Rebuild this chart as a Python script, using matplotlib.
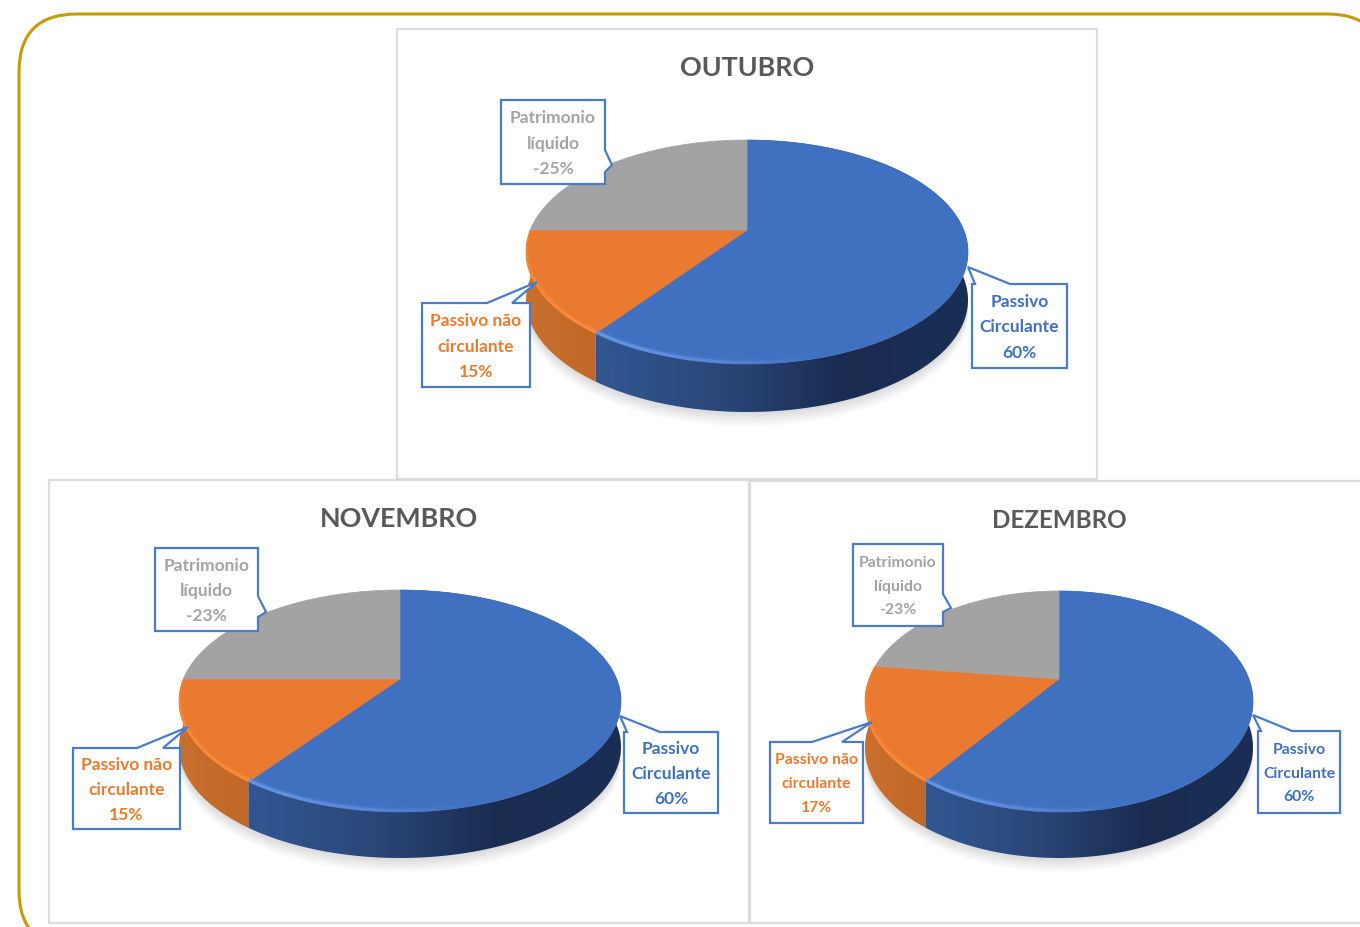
import numpy as np
import matplotlib
matplotlib.use("Agg")
import matplotlib.pyplot as plt
from matplotlib.patches import Polygon, Rectangle, FancyBboxPatch
from matplotlib.collections import LineCollection
from matplotlib.colors import to_rgb

plt.rcParams['font.family'] = ['Lato', 'DejaVu Sans']

months = ["OUTUBRO", "NOVEMBRO", "DEZEMBRO"]
passivo_circulante = [60, 60, 60]
passivo_nao_circulante = [15, 15, 17]
patrimonio_liquido = [-25, -23, -23]
series_names = ["Passivo\nCirculante", "Passivo não\ncirculante", "Patrimonio\nlíquido"]

BLUE = "#4070c0"
ORANGE = "#ea7a2f"
GRAY = "#a3a3a3"
LINE = "#4a7bc8"

# layout in pixels of the picture
panels = [(397, 29, 700, 450), (49, 480, 700, 443), (750, 481, 640, 442)]
title_pos = [(747, 68), (399, 519), (1059, 520)]
title_size = [19.4, 19.4, 17.4]
label_size = [12.5, 12.5, 11.3]
label_spacing = [1.72, 1.7, 1.9]
# cx, apex y, top y, bottom y, half width, depth
pies = [(747, 230, 140, 364, 221, 48),
        (400, 679, 590, 812, 221, 46),
        (1059, 679, 591, 812, 194, 46)]
# box (x0, y0, x1, y1), tip, side of the wedge, wedge start/end
callouts = [
    [((972, 284, 1067, 368), (968, 267), "top", (975, 1010)),
     ((422, 303, 530, 387), (537, 282), "top", (487, 512)),
     ((501, 100, 605, 184), (612, 165), "right", (150, 172))],
    [((624, 732, 718, 813), (620, 716), "top", (627, 660)),
     ((73, 748, 180, 829), (188, 727), "top", (137, 163)),
     ((155, 548, 258, 631), (266, 612), "right", (596, 617))],
    [((1258, 731, 1340, 813), (1253, 715), "top", (1261, 1292)),
     ((770, 742, 863, 823), (872, 722), "top", (812, 842)),
     ((853, 544, 943, 626), (951, 608), "right", (594, 612))],
]


def project(theta, pie):
    # circle seen in perspective, the centre lands on the apex and not mid ellipse
    cx, apex, top, bot, half, depth = pie
    ry = (bot - top) / 2
    yc = (bot + top) / 2
    k = (yc - apex) / ry
    s, u = np.sin(theta), np.cos(theta)
    c = half * np.sqrt(1 - k ** 2)
    d = 1 + k * u
    return cx + c * s / d, yc - (ry * u + (yc - apex)) / d


def side(ax, a, b, pie, stops):
    t = np.linspace(a, b, 200)
    x, y = project(t, pie)
    depth = pie[5]
    pts = np.r_[np.c_[x, y], np.c_[x, y + depth][::-1]]
    clip = Polygon(pts, closed=True, fc="none", ec="none", transform=ax.transData)
    ax.add_patch(clip)
    # gradient left to right along the side
    x0, x1 = pie[0] - pie[4], pie[0] + pie[4]
    xs = np.linspace(x0, x1, 300)
    pos = [p for p, _ in stops]
    cols = np.array([to_rgb(c) for _, c in stops])
    grad = np.stack([np.interp((xs - x0) / (x1 - x0), pos, cols[:, i]) for i in range(3)], axis=1)
    img = ax.imshow(grad[None, :, :], extent=[x0, x1, pts[:, 1].max(), pts[:, 1].min()],
                    aspect="auto", zorder=3)
    img.set_clip_path(clip)


def rim_light(ax, a, b, pie, color, clip, fade_in, fade_out):
    t = np.linspace(a, b, 120)
    x, y = project(t, pie)
    pts = np.c_[x, y - 1.5].reshape(-1, 1, 2)
    segs = np.concatenate([pts[:-1], pts[1:]], axis=1)
    deg = np.degrees(t[:-1])
    alpha = np.clip((deg - fade_in[0]) / (fade_in[1] - fade_in[0]), 0, 1)
    alpha = alpha * np.clip((fade_out[1] - deg) / (fade_out[1] - fade_out[0]), 0, 1)
    for lw, amp in [(4.5, 0.3), (2.2, 0.85)]:
        rgba = [to_rgb(color) + (v * amp,) for v in alpha]
        lc = LineCollection(segs, colors=rgba, linewidths=lw, zorder=5)
        ax.add_collection(lc)
        lc.set_clip_path(clip)


def callout(ax, box, tip, where, wedge, text, color, size, spacing):
    x0, y0, x1, y1 = box
    if where == "top":
        pts = [(x0, y0), (wedge[0], y0), tip, (wedge[1], y0), (x1, y0), (x1, y1), (x0, y1)]
    else:
        pts = [(x0, y0), (x1, y0), (x1, wedge[0]), tip, (x1, wedge[1]), (x1, y1), (x0, y1)]
    ax.add_patch(Polygon(pts, closed=True, fc="white", ec=LINE, lw=1.6, zorder=8))
    ax.text((x0 + x1) / 2, (y0 + y1) / 2 + 1.5, text, color=color, fontsize=size, fontweight="bold",
            ha="center", va="center", linespacing=spacing, zorder=9)


fig = plt.figure(figsize=(13.6, 9.27), dpi=100)
ax = fig.add_axes([0, 0, 1, 1])

# outer rounded frame
ax.add_patch(FancyBboxPatch((19, 14), 1366, 934, boxstyle="round,pad=0,rounding_size=58",
                            fc="white", ec="#c79a0a", lw=2.2, zorder=0))

for i, month in enumerate(months):
    px, py, pw, ph = panels[i]
    ax.add_patch(Rectangle((px, py), pw, ph, fc="white", ec="#dcdcdc", lw=1.6, zorder=1))
    pie = pies[i]
    # labels are rounded and do not always add to 100, gray takes what is left
    ends = np.array([passivo_circulante[i], passivo_circulante[i] + passivo_nao_circulante[i], 100]) / 100 * 2 * np.pi
    starts = np.r_[0, ends[:-1]]

    # soft shadow under the disc
    tt = np.linspace(0, 2 * np.pi, 240)
    sx, sy = project(tt, pie)
    for off in range(0, 16, 2):
        ax.add_patch(Polygon(np.c_[sx, sy + pie[5] + off], closed=True, fc="#000000",
                             ec="none", alpha=0.02, zorder=2))

    side(ax, starts[0], ends[0], pie, [(0, "#30558f"), (0.2, "#30558f"), (0.45, "#2a4677"),
                                       (0.72, "#1a2c50"), (1, "#1b2f55")])
    side(ax, starts[1], ends[1], pie, [(0, "#c9702f"), (0.3, "#b9601f"), (1, "#b9601f")])

    colors = [BLUE, ORANGE, GRAY]
    for a, b, col in zip(starts, ends, colors):
        t = np.linspace(a, b, 200)
        x, y = project(t, pie)
        ax_pts = np.r_[[[pie[0], pie[1]]], np.c_[x, y]]
        ax.add_patch(Polygon(ax_pts, closed=True, fc=col, ec=col, lw=0.5, zorder=4))

    disc = Polygon(np.c_[sx, sy], closed=True, fc="none", ec="none", transform=ax.transData)
    ax.add_patch(disc)
    rim_light(ax, np.radians(165), ends[0], pie, "#6a9ae6", disc, (165, 205), (400, 500))
    rim_light(ax, starts[1], ends[1], pie, "#fb8f3e", disc, (100, 120), (250, 272))

    ax.text(title_pos[i][0], title_pos[i][1], month, color="#595959", fontsize=title_size[i],
            fontweight="bold", ha="center", va="center", zorder=9)

    labels = [f"{passivo_circulante[i]}%", f"{passivo_nao_circulante[i]}%", f"{patrimonio_liquido[i]}%"]
    for j in range(3):
        box, tip, where, wedge = callouts[i][j]
        callout(ax, box, tip, where, wedge, series_names[j] + "\n" + labels[j], colors[j],
                label_size[i], label_spacing[i])

ax.set_xlim(0, 1360)
ax.set_ylim(927, 0)
ax.axis("off")
fig.savefig("out.png", dpi=100)
